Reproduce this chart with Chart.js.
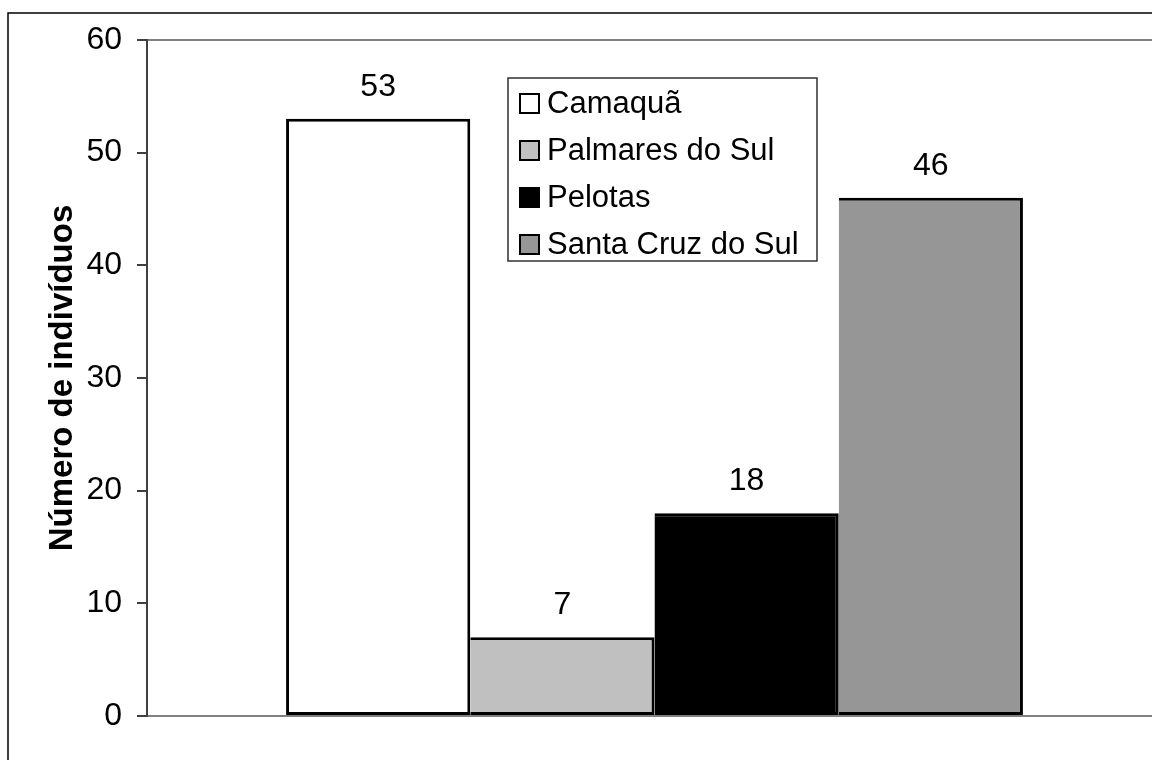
<!DOCTYPE html>
<html>
<head>
<meta charset="utf-8">
<script src="https://cdn.jsdelivr.net/npm/chart.js@4.4.1/dist/chart.umd.min.js"></script>
<style>
  html, body { margin: 0; padding: 0; background: #fff; overflow: hidden; }
  #wrap { width: 1152px; height: 760px; overflow: hidden; }
</style>
</head>
<body>
<div id="wrap"><canvas id="cidades" width="1170" height="760"></canvas></div>
<script>
const categorias = ['']
const cidades = ['Camaquã', 'Palmares do Sul', 'Pelotas', 'Santa Cruz do Sul']
const individuos = [53, 7, 18, 46]
const cores = ['#ffffff', '#c0c0c0', '#000000', '#969696']
const yTicks = [0, 10, 20, 30, 40, 50, 60]

const fonte = 'Arial, "Liberation Sans", sans-serif'

// moldura externa e linha superior da area do grafico
const moldura = {
    id: 'moldura',
    beforeDraw(chart) {
        const { ctx, chartArea } = chart
        ctx.save()
        ctx.strokeStyle = '#000'
        ctx.lineWidth = 1.5
        ctx.strokeRect(8, 13, 1200, 800)
        ctx.strokeStyle = '#808080'
        ctx.lineWidth = 2
        ctx.beginPath()
        ctx.moveTo(chartArea.left, chartArea.top)
        ctx.lineTo(chart.width, chartArea.top)
        ctx.stroke()
        ctx.restore()
    }
}

// valores em cima das barras
const rotulos = {
    id: 'rotulos',
    afterDatasetsDraw(chart) {
        const { ctx } = chart
        ctx.save()
        ctx.font = '32px ' + fonte
        ctx.fillStyle = '#000'
        ctx.textAlign = 'center'
        ctx.textBaseline = 'alphabetic'
        chart.data.datasets.forEach((ds, i) => {
            chart.getDatasetMeta(i).data.forEach((bar, j) => {
                ctx.fillText(ds.data[j], bar.x, bar.y - 23)
            })
        })
        ctx.restore()
    }
}

// legenda dentro da area do grafico
const legenda = {
    id: 'legenda',
    afterDraw(chart) {
        const { ctx } = chart
        const x0 = 508, y0 = 78, w = 309, h = 183
        ctx.save()
        ctx.fillStyle = '#fff'
        ctx.fillRect(x0, y0, w, h)
        ctx.strokeStyle = '#303030'
        ctx.lineWidth = 1.5
        ctx.strokeRect(x0, y0, w, h)
        ctx.font = '31px ' + fonte
        ctx.textBaseline = 'middle'
        chart.data.datasets.forEach((ds, i) => {
            const cy = 103 + i * 47
            ctx.fillStyle = ds.backgroundColor
            ctx.fillRect(520, cy - 9, 19, 19)
            ctx.strokeStyle = '#000'
            ctx.lineWidth = 2
            ctx.strokeRect(520, cy - 9, 19, 19)
            ctx.fillStyle = '#000'
            ctx.fillText(ds.label, 547, cy + 1)
        })
        ctx.restore()
    }
}

const data = {
    labels: categorias,
    datasets: cidades.map((nome, i) => ({
        label: nome,
        data: [individuos[i]],
        backgroundColor: cores[i],
        borderColor: '#000',
        // barras encostadas: so a primeira tem borda esquerda
        borderWidth: { top: 3, right: 3, bottom: 3, left: i === 0 ? 3 : 0 },
        borderSkipped: false
    }))
}

const options = {
    responsive: false,
    animation: false,
    layout: { padding: { left: 8, top: 40, right: 8, bottom: 0 } },
    categoryPercentage: 0.726,
    barPercentage: 1,
    plugins: {
        legend: { display: false },
        tooltip: { enabled: false }
    },
    scales: {
        x: {
            ticks: { display: false },
            grid: { display: false },
            border: { display: true, color: '#808080', width: 2 },
            afterFit: (scale) => { scale.height = 44 }
        },
        y: {
            min: 0,
            max: 60,
            afterBuildTicks: (scale) => { scale.ticks = yTicks.map(v => ({ value: v })) },
            ticks: {
                color: '#000',
                padding: 15,
                font: { family: fonte, size: 32 }
            },
            grid: {
                drawOnChartArea: false,
                drawTicks: true,
                tickLength: 10,
                color: '#404040',
                lineWidth: 2
            },
            border: { display: true, color: '#404040', width: 2 },
            title: {
                display: true,
                text: 'Número de indivíduos',
                color: '#000',
                padding: { top: 35, bottom: 0 },
                font: { family: fonte, size: 33, weight: 'bold' }
            },
            afterFit: (scale) => { scale.width = 139 }
        }
    }
}

new Chart('cidades', { type: 'bar', data, options, plugins: [moldura, rotulos, legenda] })
</script>
</body>
</html>
